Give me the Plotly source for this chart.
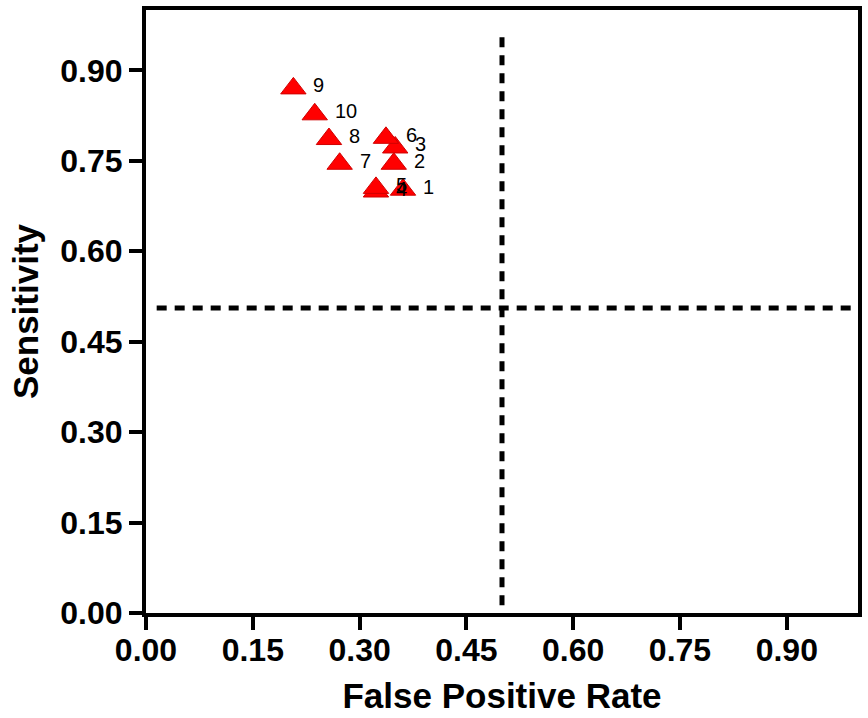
import plotly.graph_objects as go

# Study data
study_labels = ['1', '2', '3', '4', '5', '6', '7', '8', '9', '10']
false_positive_rate = [0.361, 0.348, 0.350, 0.323, 0.323, 0.337, 0.272, 0.257, 0.207, 0.237]
sensitivity = [0.702, 0.745, 0.772, 0.699, 0.705, 0.788, 0.745, 0.786, 0.870, 0.827]

# Reference (cut-off) lines
vline_x = [0.5, 0.5]
vline_y = [0.013, 0.955]
hline_x = [0.015, 1.0]
hline_y = [0.506, 0.506]

tick_values = [0.00, 0.15, 0.30, 0.45, 0.60, 0.75, 0.90]
tick_text = ['0.00', '0.15', '0.30', '0.45', '0.60', '0.75', '0.90']

FONT = 'Arial, Liberation Sans, sans-serif'

fig = go.Figure()

fig.add_trace(go.Scatter(
    x=vline_x, y=vline_y, mode='lines',
    line=dict(color='black', width=5, dash='10px,8px'),
    hoverinfo='skip', showlegend=False))
fig.add_trace(go.Scatter(
    x=hline_x, y=hline_y, mode='lines',
    line=dict(color='black', width=5, dash='10px,8px'),
    hoverinfo='skip', showlegend=False))

fig.add_trace(go.Scatter(
    x=false_positive_rate, y=sensitivity,
    mode='markers',
    marker=dict(symbol='triangle-up', size=22, color='#ff0000',
                line=dict(color='#d00000', width=1)),
    showlegend=False))

for fx, sy, lab in zip(false_positive_rate, sensitivity, study_labels):
    fig.add_annotation(x=fx, y=sy, text=lab, showarrow=False,
                       xanchor='left', yanchor='middle', xshift=18, yshift=3,
                       font=dict(family=FONT, size=20, color='black'))

axis_common = dict(
    showline=True, linewidth=4, linecolor='black', mirror=True,
    ticks='outside', ticklen=13, tickwidth=3.5, tickcolor='black',
    showgrid=False, zeroline=False,
    tickvals=tick_values, ticktext=tick_text,
    tickfont=dict(family=FONT, size=32, color='black', weight='bold'),
)

fig.update_layout(
    width=868, height=718, autosize=False,
    margin=dict(l=146, r=9, t=6, b=105),
    plot_bgcolor='white', paper_bgcolor='white',
    xaxis=dict(range=[0, 1.0], ticklabelstandoff=-7,
               title=dict(text='False Positive Rate', standoff=17,
                          font=dict(family=FONT, size=35, color='black', weight='bold')),
               **axis_common),
    yaxis=dict(range=[0, 1.0],
               title=dict(text='Sensitivity', standoff=12,
                          font=dict(family=FONT, size=35, color='black', weight='bold')),
               **axis_common),
)

fig.write_html('out.html', config={'displayModeBar': False},
               post_script="document.body.style.margin='0';")
